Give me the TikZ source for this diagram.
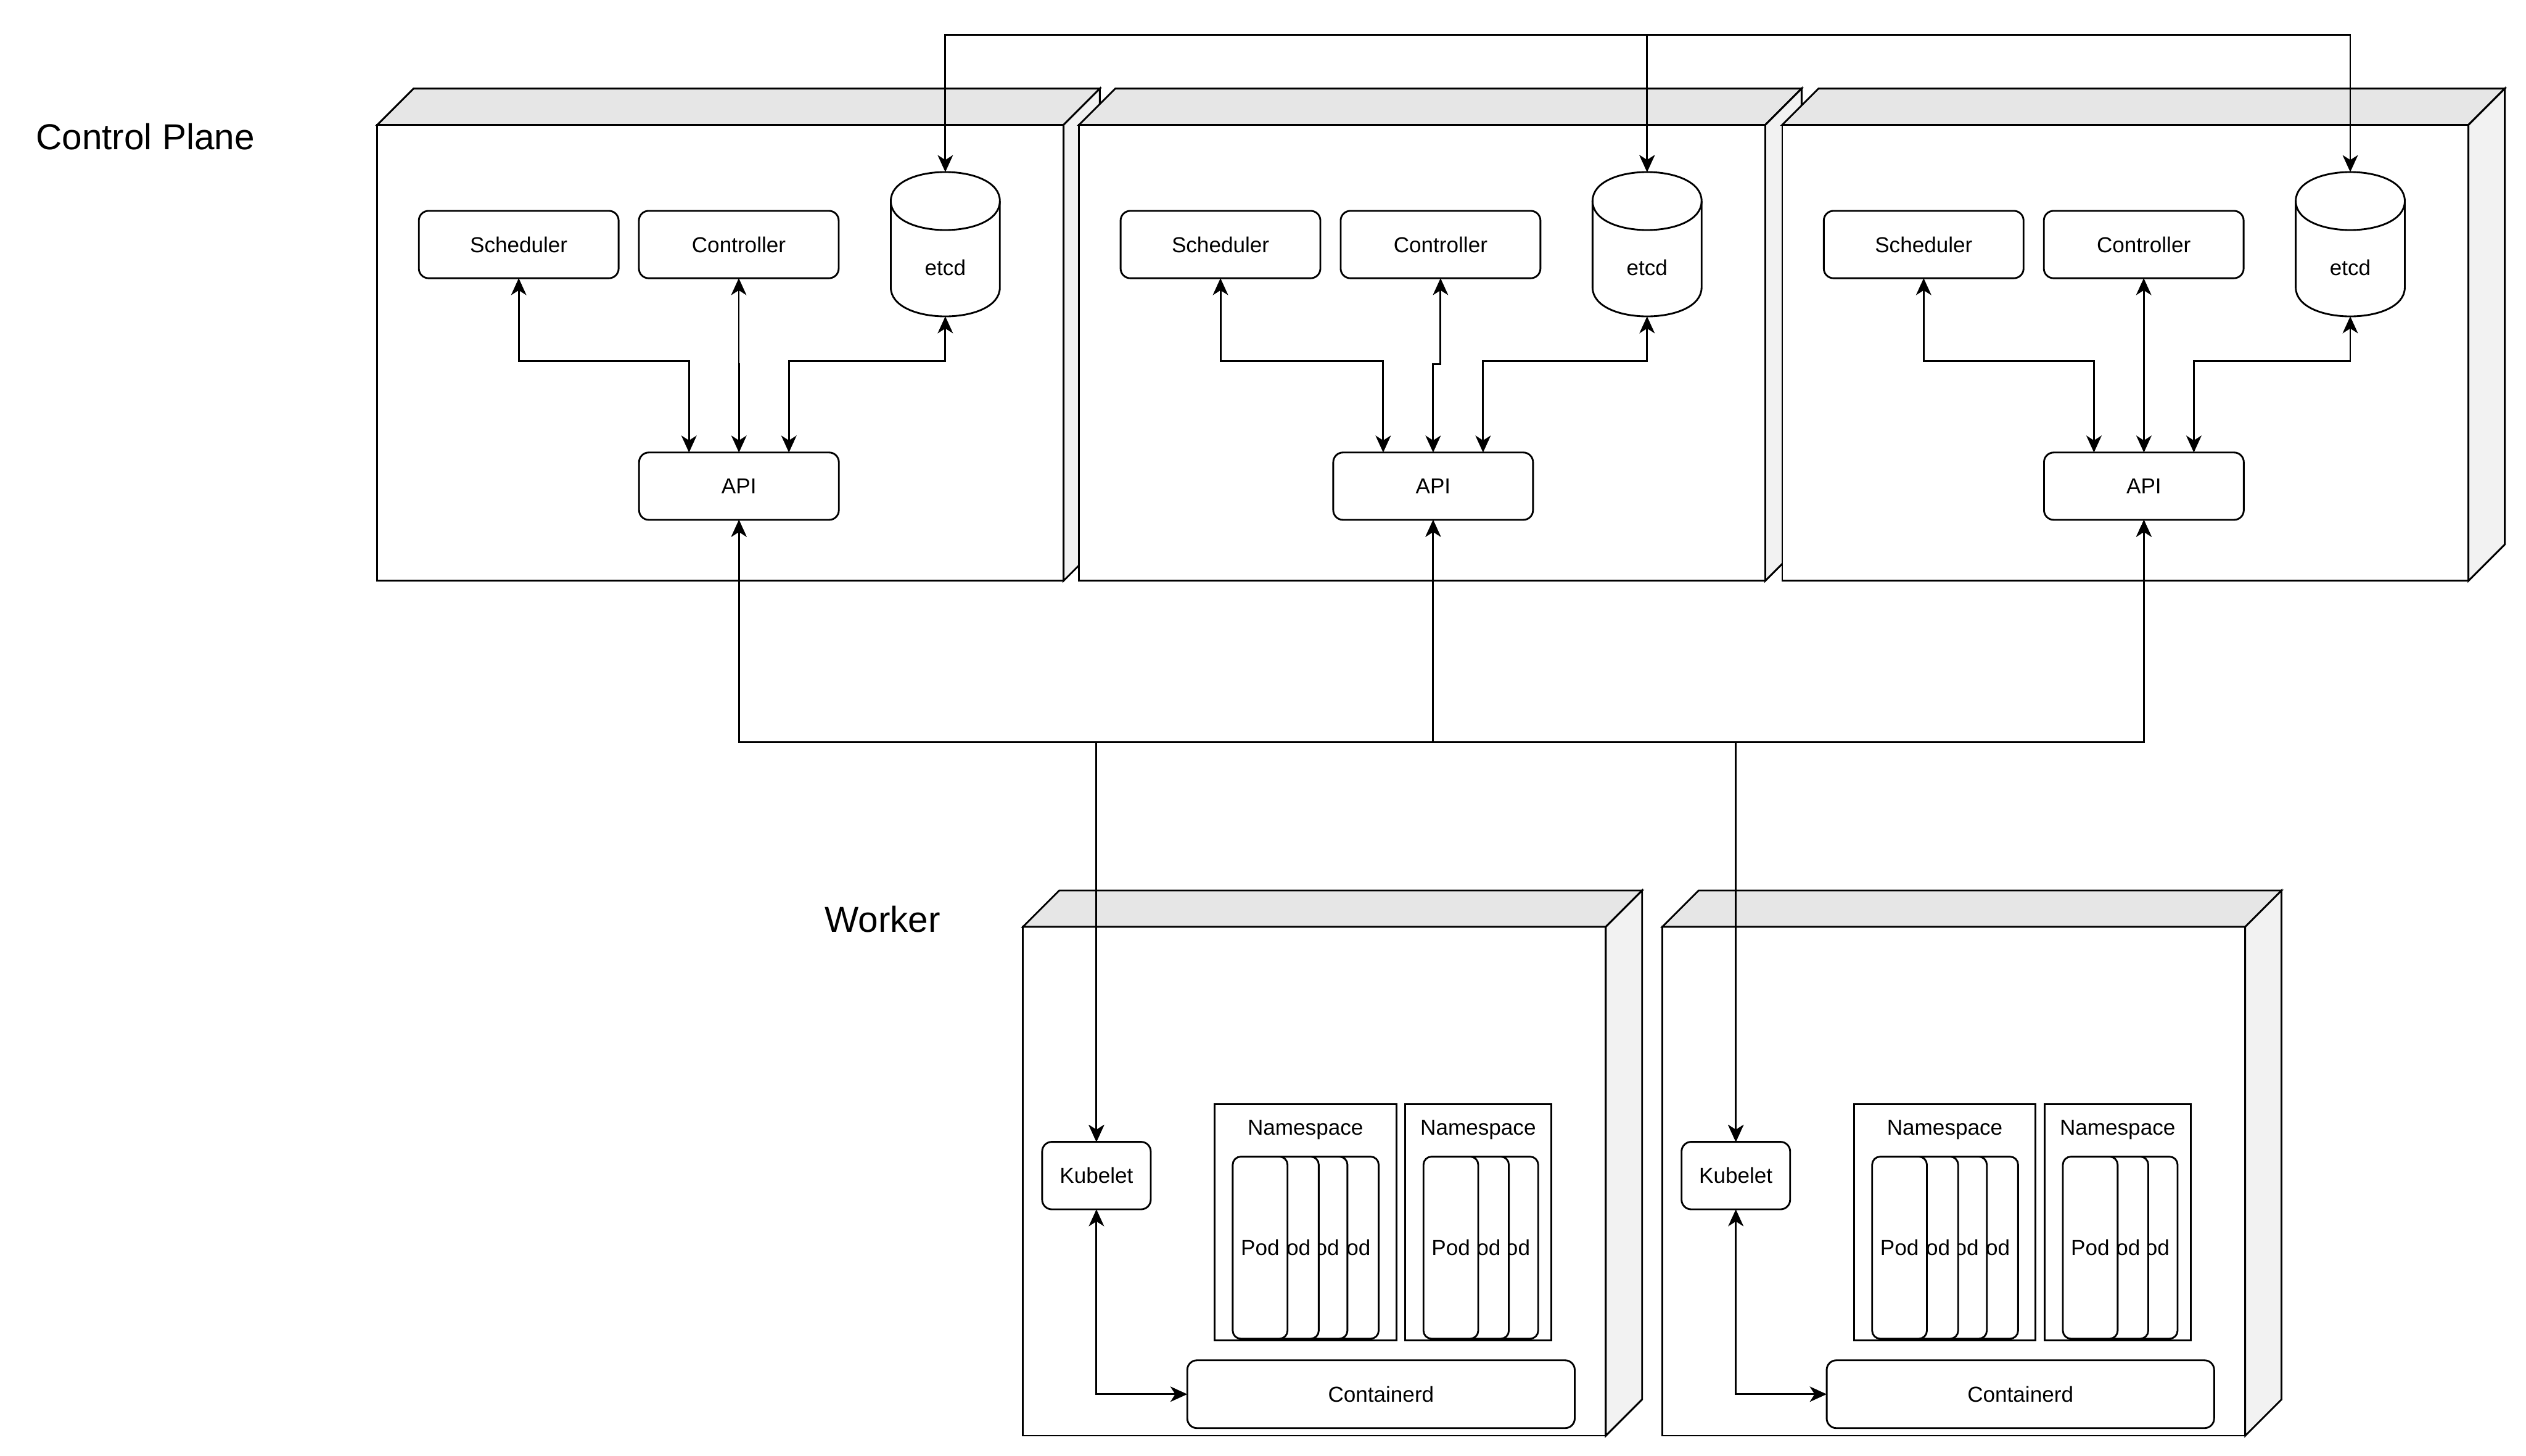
\documentclass[tikz,border=0pt]{standalone}
\usepackage{fontspec}
\setmainfont{Liberation Sans}
\usetikzlibrary{arrows.meta,calc,positioning}

\definecolor{cubegray}{HTML}{E6E6E6}
\definecolor{cubelight}{HTML}{F2F2F2}

\newcommand\cubedepth{22.5}
% name, left, top, width, height of the front face
\newcommand\drawcube[5]{%
  \node[cubefront, minimum width=#4pt, minimum height=#5pt] (#1) at (#2,#3) {};
  \filldraw[cubetop] (#1.north west) -- ++(\cubedepth,-\cubedepth) -- ($(#1.north east)+(\cubedepth,-\cubedepth)$) -- (#1.north east) -- cycle;
  \filldraw[cubeside] (#1.north east) -- ++(\cubedepth,-\cubedepth) -- ($(#1.south east)+(\cubedepth,-\cubedepth)$) -- (#1.south east) -- cycle;
}
% name, centre x
\newcommand\drawetcd[2]{%
  \node[etcdbox] (#1) at ({#2},151.6) {};
  \draw ($(#1.north west)+(0,18)$) .. controls +(0,-24) and +(0,-24) .. ($(#1.north east)+(0,18)$)
    -- ($(#1.south east)+(0,-18)$) .. controls +(0,24) and +(0,24) .. ($(#1.south west)+(0,-18)$) -- cycle;
  \draw ($(#1.north west)+(0,18)$) .. controls +(0,24) and +(0,24) .. ($(#1.north east)+(0,18)$);
}

\begin{document}
\begin{tikzpicture}[x=1pt, y=-1pt, line width=1.1pt,
    font=\fontsize{13.44}{16}\selectfont,
    title/.style={font=\fontsize{22.4}{27}\selectfont},
    cubefront/.style={draw, fill=white, anchor=north west, inner sep=0pt, outer sep=0pt},
    cubetop/.style={draw, fill=cubegray},
    cubeside/.style={draw, fill=cubelight},
    box/.style={draw, fill=white, rounded corners=6pt, inner sep=0pt, outer sep=0pt,
      minimum width=124pt, minimum height=41.8pt},
    etcdbox/.style={rectangle, inner sep=0pt, outer sep=0pt,
      minimum width=67.7pt, minimum height=89.6pt,
      label={[anchor=center, yshift=-14.4pt]center:etcd}},
    nsbox/.style={draw, fill=white, anchor=north west, inner sep=0pt, outer sep=0pt,
      minimum height=146.6pt, label={[anchor=center, yshift=-16pt]north:Namespace}},
    podbox/.style={draw, fill=white, rounded corners=5pt, anchor=north west,
      inner sep=0pt, outer sep=0pt, minimum width=34pt, minimum height=113pt},
    biarrow/.style={{Stealth[length=10.5pt, width=9.5pt, inset=3pt]}-{Stealth[length=10.5pt, width=9.5pt, inset=3pt]}}]
\useasboundingbox (0,0) rectangle (1568,903.6);

\coordinate (ring) at (0,21.5);
\coordinate (lvl) at (0,224);
\coordinate (jog) at (0,226.1);
\coordinate (bus) at (0,460.6);

\node[title] (cplabel) at (90.2,85) {Control Plane};
\node[title] (wklabel) at (547.9,570.5) {Worker};

\foreach \i/\x in {1/234.2, 2/669.8, 3/1106.3}
  \drawcube{cp\i}{\x}{77.5}{426}{283};

\foreach \i/\dx/\ax in {1/0/458.7, 2/435.6/889.6, 3/872.1/1330.8} {
  \node[box] (sch\i) at ({322+\dx},151.8) {Scheduler};
  \node[box] (ctl\i) at ({458.6+\dx},151.8) {Controller};
  \drawetcd{etcd\i}{586.8+\dx}
  \node[box] (api\i) at (\ax,301.8) {API};
  \coordinate (apil\i) at ($(api\i.north west)!.25!(api\i.north east)$);
  \coordinate (apir\i) at ($(api\i.north west)!.75!(api\i.north east)$);
  \draw[biarrow] (sch\i.south) -- (sch\i.south |- lvl) -| (apil\i);
  \draw[biarrow] (ctl\i.south) -- (ctl\i.south |- jog) -| (api\i.north);
  \draw[biarrow] (etcd\i.south) -- (etcd\i.south |- lvl) -| (apir\i);
}

\foreach \m/\n in {1/2, 2/3}
  \draw[biarrow] (etcd\m.north) |- (ring -| etcd\n.north) -- (etcd\n.north);

\foreach \i/\X in {1/635, 2/1031.9} {
  \drawcube{wk\i}{\X}{575.3}{361.8}{315.9}
  \node[box, minimum width=67.4pt, minimum height=41.9pt] (kube\i) at ({\X+45.6},729.75) {Kubelet};
  \node[nsbox, minimum width=112.8pt] (nsa\i) at ({\X+118.9},685.5) {};
  \node[nsbox, minimum width=90.7pt] (nsb\i) at ({\X+237.2},685.5) {};
  \foreach \p [count=\n] in {186.8, 167.4, 149.6, 130.2}
    \node[podbox] (poda\i\n) at ({\X+\p},718) {Pod};
  \foreach \p [count=\n] in {285.8, 267.6, 248.6}
    \node[podbox] (podb\i\n) at ({\X+\p},718) {Pod};
  \node[box, minimum width=240.5pt, minimum height=42.1pt] (ctd\i) at ({\X+222.25},865.45) {Containerd};
  \draw[biarrow] (kube\i.south) |- (ctd\i.west);
}

\foreach \k in {1,2}
  \foreach \j in {1,2,3}
    \draw[biarrow] (api\j.south) |- (bus -| kube\k.north) -- (kube\k.north);

\end{tikzpicture}
\end{document}
